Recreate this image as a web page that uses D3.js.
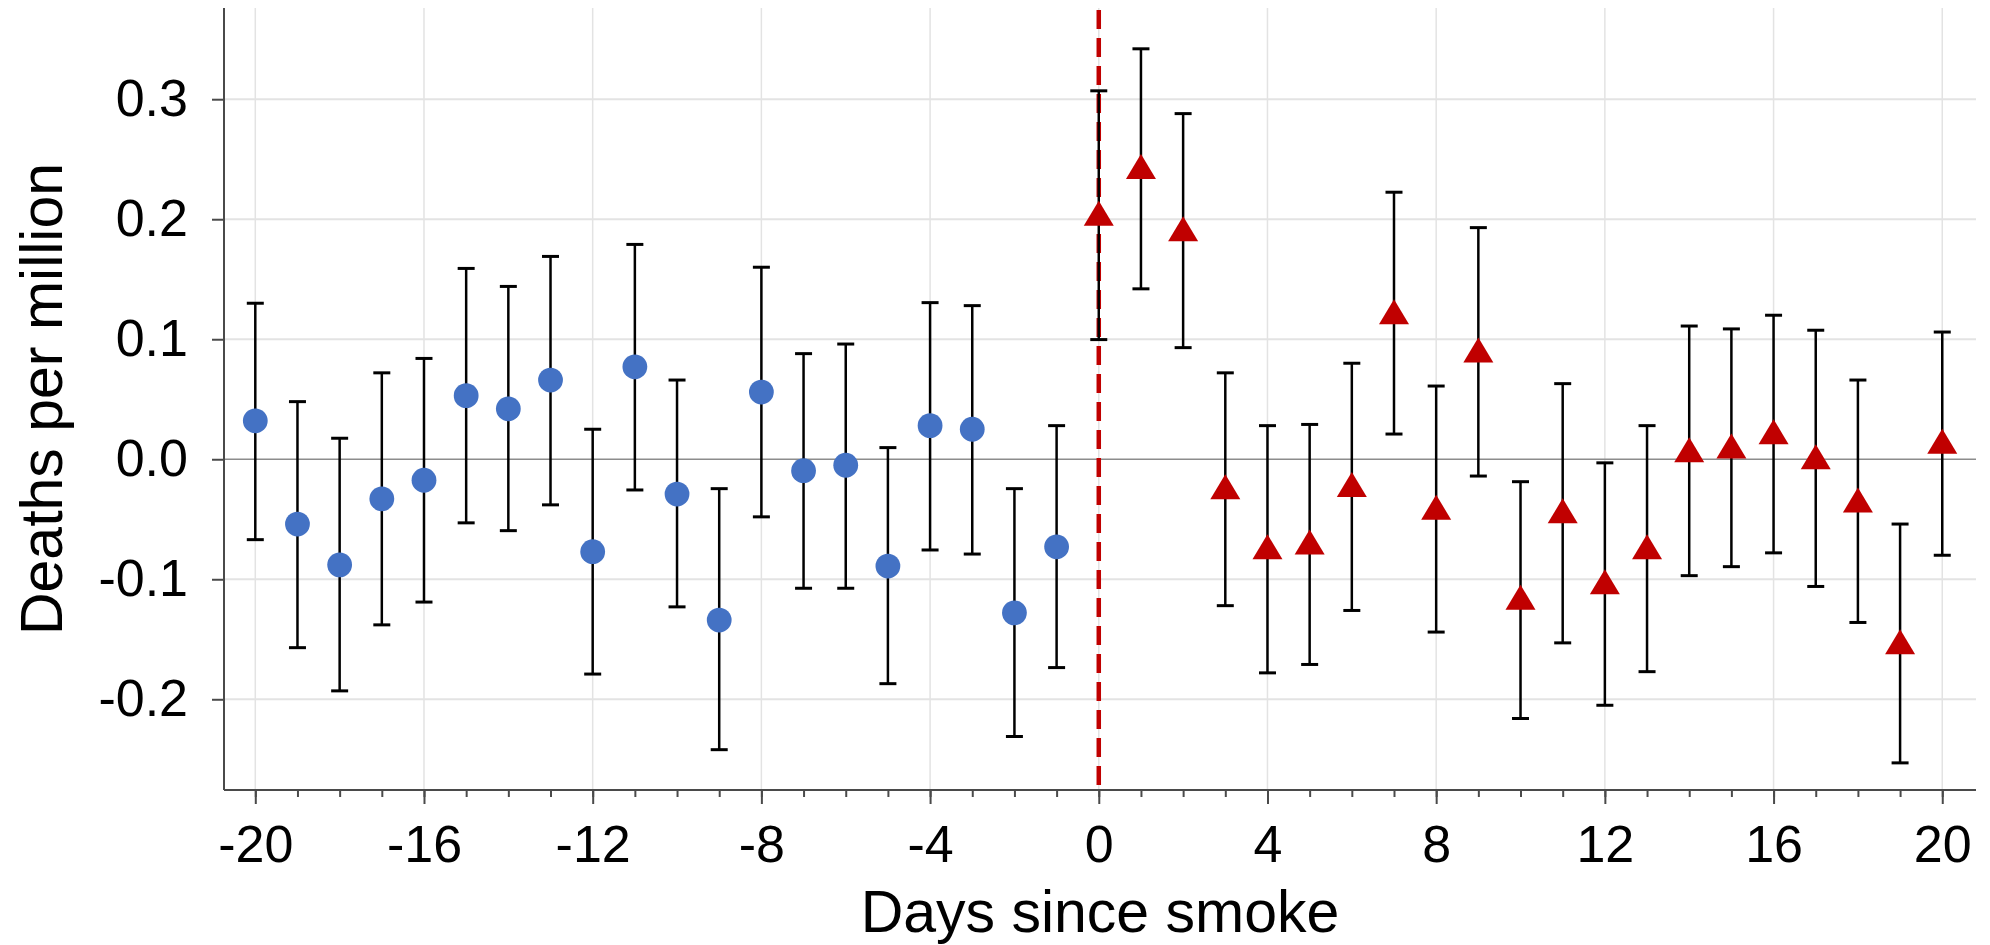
<!DOCTYPE html>
<html>
<head>
<meta charset="utf-8">
<script src="https://cdn.jsdelivr.net/npm/d3@7"></script>
<style>
  body { margin: 0; background: #fff; }
  svg { display: block; font-family: "Liberation Sans", Arial, sans-serif; }
</style>
</head>
<body>
<div id="chart"></div>
<script>
// days before smoke (blue circles)
var pre_days  = [-20,-19,-18,-17,-16,-15,-14,-13,-12,-11,-10,-9,-8,-7,-6,-5,-4,-3,-2,-1]
var pre_est   = [0.032,-0.054,-0.088,-0.033,-0.0175,0.053,0.042,0.066,-0.077,0.077,-0.029,-0.134,0.056,-0.0095,-0.005,-0.089,0.028,0.025,-0.128,-0.073]
var pre_lo    = [-0.067,-0.157,-0.193,-0.138,-0.119,-0.053,-0.0595,-0.038,-0.179,-0.0256,-0.123,-0.242,-0.048,-0.1075,-0.1075,-0.187,-0.0756,-0.079,-0.231,-0.1736]
var pre_hi    = [0.130,0.048,0.0175,0.072,0.084,0.159,0.144,0.169,0.025,0.179,0.066,-0.0245,0.160,0.088,0.096,0.0097,0.1305,0.128,-0.0245,0.028]

// days since smoke (red triangles)
var post_days = [0,1,2,3,4,5,6,7,8,9,10,11,12,13,14,15,16,17,18,19,20]
var post_est  = [0.205,0.244,0.192,-0.023,-0.073,-0.069,-0.021,0.123,-0.040,0.091,-0.115,-0.043,-0.102,-0.073,0.008,0.011,0.023,0.002,-0.034,-0.152,0.015]
var post_lo   = [0.0997,0.142,0.093,-0.122,-0.178,-0.171,-0.126,0.021,-0.144,-0.014,-0.216,-0.153,-0.205,-0.177,-0.097,-0.0895,-0.078,-0.106,-0.136,-0.253,-0.080]
var post_hi   = [0.307,0.342,0.288,0.072,0.028,0.029,0.080,0.2225,0.061,0.193,-0.0187,0.063,-0.003,0.028,0.111,0.1086,0.120,0.1075,0.066,-0.054,0.106]

var x_ticks = [-20,-16,-12,-8,-4,0,4,8,12,16,20]
var y_ticks = [-0.2,-0.1,0.0,0.1,0.2,0.3]
var x_title = "Days since smoke"
var y_title = "Deaths per million"

var width = 1990, height = 945
var plot_left = 224, plot_right = 1976, plot_top = 8, plot_bottom = 790
var tick_font = 52
var title_font = 59
var cap_half = 8.5

var svg = d3.select("#chart").append("svg")
    .attr("width", width)
    .attr("height", height)

var x = d3.scaleLinear().domain([-20.742, 20.80]).range([plot_left, plot_right])
var y = d3.scaleLinear().domain([-0.2756, 0.376]).range([plot_bottom, plot_top])

var pre = pre_days.map(function(d, i){ return {day: d, est: pre_est[i], lo: pre_lo[i], hi: pre_hi[i]} })
var post = post_days.map(function(d, i){ return {day: d, est: post_est[i], lo: post_lo[i], hi: post_hi[i]} })
var all = pre.concat(post)

// GRID
svg.append("g").selectAll("line.vgrid")
    .data(x_ticks).enter()
    .append("line")
    .attr("class", "vgrid")
    .attr("x1", function(d){ return x(d) })
    .attr("x2", function(d){ return x(d) })
    .attr("y1", plot_top)
    .attr("y2", plot_bottom)
    .attr("stroke", "#e3e3e3")
    .attr("stroke-width", 1.5)
svg.append("g").selectAll("line.hgrid")
    .data(y_ticks.filter(function(d){ return d != 0 })).enter()
    .append("line")
    .attr("class", "hgrid")
    .attr("x1", plot_left)
    .attr("x2", plot_right)
    .attr("y1", function(d){ return y(d) })
    .attr("y2", function(d){ return y(d) })
    .attr("stroke", "#e3e3e3")
    .attr("stroke-width", 2)
svg.append("line")
    .attr("x1", plot_left)
    .attr("x2", plot_right)
    .attr("y1", y(0))
    .attr("y2", y(0))
    .attr("stroke", "#8c8c8c")
    .attr("stroke-width", 1.5)

// AXES
var y_axis = svg.append("g")
    .attr("transform", "translate(" + plot_left + ",0)")
    .call(d3.axisLeft(y).tickValues(y_ticks).tickSize(12).tickPadding(24)
        .tickFormat(function(d){ return d.toFixed(1) }))
y_axis.select(".domain").remove()
y_axis.append("line")
    .attr("x1", 0).attr("x2", 0)
    .attr("y1", plot_top).attr("y2", plot_bottom)
    .attr("stroke", "#4a4a4a")
    .attr("stroke-width", 2)

var x_minor = svg.append("g")
    .attr("transform", "translate(0," + plot_bottom + ")")
    .call(d3.axisBottom(x).tickValues(d3.range(-20, 21)).tickSize(7).tickFormat(""))
x_minor.select(".domain").remove()

var x_axis = svg.append("g")
    .attr("transform", "translate(0," + plot_bottom + ")")
    .call(d3.axisBottom(x).tickValues(x_ticks).tickSize(14).tickPadding(21)
        .tickFormat(function(d){ return String(d) }))
x_axis.select(".domain").remove()
x_axis.append("line")
    .attr("x1", plot_left).attr("x2", plot_right)
    .attr("y1", 0).attr("y2", 0)
    .attr("stroke", "#4a4a4a")
    .attr("stroke-width", 2)

svg.selectAll(".tick line")
    .attr("stroke", "#4a4a4a")
    .attr("stroke-width", 2)
svg.selectAll(".tick text")
    .attr("fill", "#000")
    .style("font-size", tick_font + "px")
    .style("font-family", "Liberation Sans, Arial, sans-serif")

// TITLES
svg.append("text")
    .text(x_title)
    .attr("x", (plot_left + plot_right) / 2)
    .attr("y", 932)
    .attr("text-anchor", "middle")
    .style("font-size", title_font + "px")
svg.append("text")
    .text(y_title)
    .attr("transform", "translate(62," + ((plot_top + plot_bottom) / 2) + ") rotate(-90)")
    .attr("text-anchor", "middle")
    .style("font-size", title_font + "px")

// SMOKE LINE
svg.append("line")
    .attr("x1", x(0)).attr("x2", x(0))
    .attr("y1", 10).attr("y2", plot_bottom)
    .attr("stroke", "#c00000")
    .attr("stroke-width", 4.5)
    .attr("stroke-dasharray", "19,9")

// ERROR BARS
var bars = svg.append("g").selectAll("g.bar")
    .data(all).enter()
    .append("g")
    .attr("class", "bar")
bars.append("line")
    .attr("x1", function(d){ return x(d.day) })
    .attr("x2", function(d){ return x(d.day) })
    .attr("y1", function(d){ return y(d.lo) })
    .attr("y2", function(d){ return y(d.hi) })
    .attr("stroke", "#000")
    .attr("stroke-width", 2.5)
bars.append("line")
    .attr("x1", function(d){ return x(d.day) - cap_half })
    .attr("x2", function(d){ return x(d.day) + cap_half })
    .attr("y1", function(d){ return y(d.hi) })
    .attr("y2", function(d){ return y(d.hi) })
    .attr("stroke", "#000")
    .attr("stroke-width", 3)
bars.append("line")
    .attr("x1", function(d){ return x(d.day) - cap_half })
    .attr("x2", function(d){ return x(d.day) + cap_half })
    .attr("y1", function(d){ return y(d.lo) })
    .attr("y2", function(d){ return y(d.lo) })
    .attr("stroke", "#000")
    .attr("stroke-width", 3)

// MARKERS
svg.append("g").selectAll("circle")
    .data(pre).enter()
    .append("circle")
    .attr("cx", function(d){ return x(d.day) })
    .attr("cy", function(d){ return y(d.est) })
    .attr("r", 12.4)
    .attr("fill", "#4472c4")
svg.append("g").selectAll("path")
    .data(post).enter()
    .append("path")
    .attr("d", "M0,-12.5L15,12.5L-15,12.5Z")
    .attr("transform", function(d){ return "translate(" + x(d.day) + "," + y(d.est) + ")" })
    .attr("fill", "#c00000")
</script>
</body>
</html>
